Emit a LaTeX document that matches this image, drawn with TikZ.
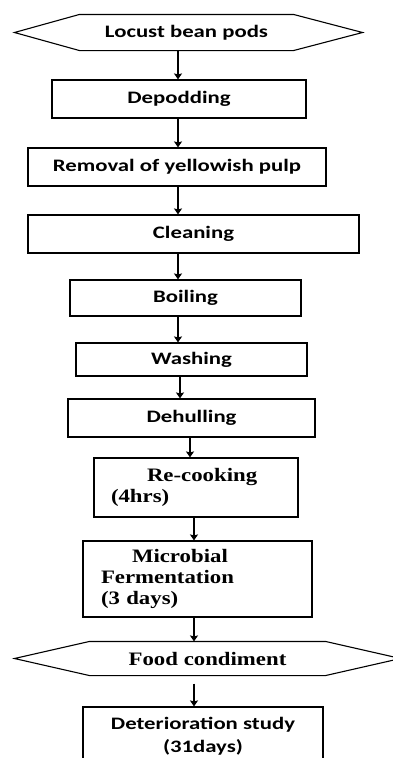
\documentclass[tikz,border=0pt]{standalone}
\usepackage{fontspec}
\usetikzlibrary{arrows.meta}
\newfontfamily\calib[FakeStretch=1.3]{Carlito}
\newfontfamily\tms[FakeStretch=1.2]{Liberation Serif}
\begin{document}
\begin{tikzpicture}[x=1pt,y=-1pt,->,>={Stealth[length=6pt,width=8pt,inset=1pt]},line width=1.1pt,
  stepbox/.style={draw,rectangle,inner sep=0pt,font=\calib\bfseries\fontsize{17.5}{23}\selectfont},
  serifbox/.style={draw,rectangle,inner sep=0pt,align=left,font=\tms\bfseries\fontsize{19}{21}\selectfont},
  hexlabel/.style={rectangle,inner sep=0pt}]
\useasboundingbox (0,0) rectangle (392,758);
\node[hexlabel,minimum width=213,minimum height=35,font=\calib\bfseries\fontsize{17.5}{23}\selectfont] (pods) at (186.5,32.5) {Locust bean pods};
\node[stepbox,minimum width=254,minimum height=38] (depod) at (179,99) {Depodding};
\node[stepbox,minimum width=298,minimum height=38] (pulp) at (177,167) {Removal of yellowish pulp};
\node[stepbox,minimum width=331,minimum height=38] (clean) at (193.5,234) {Cleaning};
\node[stepbox,minimum width=231,minimum height=36] (boil) at (185.5,298) {Boiling};
\node[stepbox,minimum width=231,minimum height=33] (wash) at (191.5,359.5) {Washing};
\node[stepbox,minimum width=247,minimum height=38] (dehull) at (191.5,418) {Dehulling};
\node[serifbox,minimum width=204,minimum height=59,text width=170] (recook) at (196,487.5) {\hspace*{36pt}Re-cooking\\(4hrs)};
\node[serifbox,minimum width=229,minimum height=76,text width=193] (ferment) at (197.5,579) {\hspace*{31pt}Microbial\\Fermentation\\(3 days)};
\node[hexlabel,minimum width=235,minimum height=33,font=\tms\bfseries\fontsize{19}{21}\selectfont] (food) at (207.5,658.5) {Food condiment};
\node[stepbox,minimum width=240,minimum height=58,align=center] (study) at (203,736) {Deterioration study\\(31days)};
% hexagon outlines
\draw[-] (pods.north west) -- (pods.north east) -- ([xshift=69pt]pods.east) -- (pods.south east)
  -- (pods.south west) -- ([xshift=-65pt]pods.west) -- cycle;
\draw[-] (food.north west) -- (food.north east) -- ([xshift=75pt]food.east) -- (food.south east)
  -- (food.south west) -- ([xshift=-75pt]food.west) -- cycle;
% arrows
\draw (pods.south -| 178,0) -- (depod.north -| 178,0);
\draw (depod.south -| 178,0) -- (pulp.north -| 178,0);
\draw (pulp.south -| 178,0) -- (clean.north -| 178,0);
\draw (clean.south -| 178,0) -- (boil.north -| 178,0);
\draw (boil.south -| 178,0) -- (wash.north -| 178,0);
\draw (wash.south -| 180,0) -- (dehull.north -| 180,0);
\draw (dehull.south -| 190,0) -- (recook.north -| 190,0);
\draw (recook.south -| 194,0) -- (ferment.north -| 194,0);
\draw (ferment.south -| 194,0) -- (food.north -| 194,0);
\draw[shorten <=8pt] (food.south -| 194,0) -- (study.north -| 194,0);
\end{tikzpicture}
\end{document}
